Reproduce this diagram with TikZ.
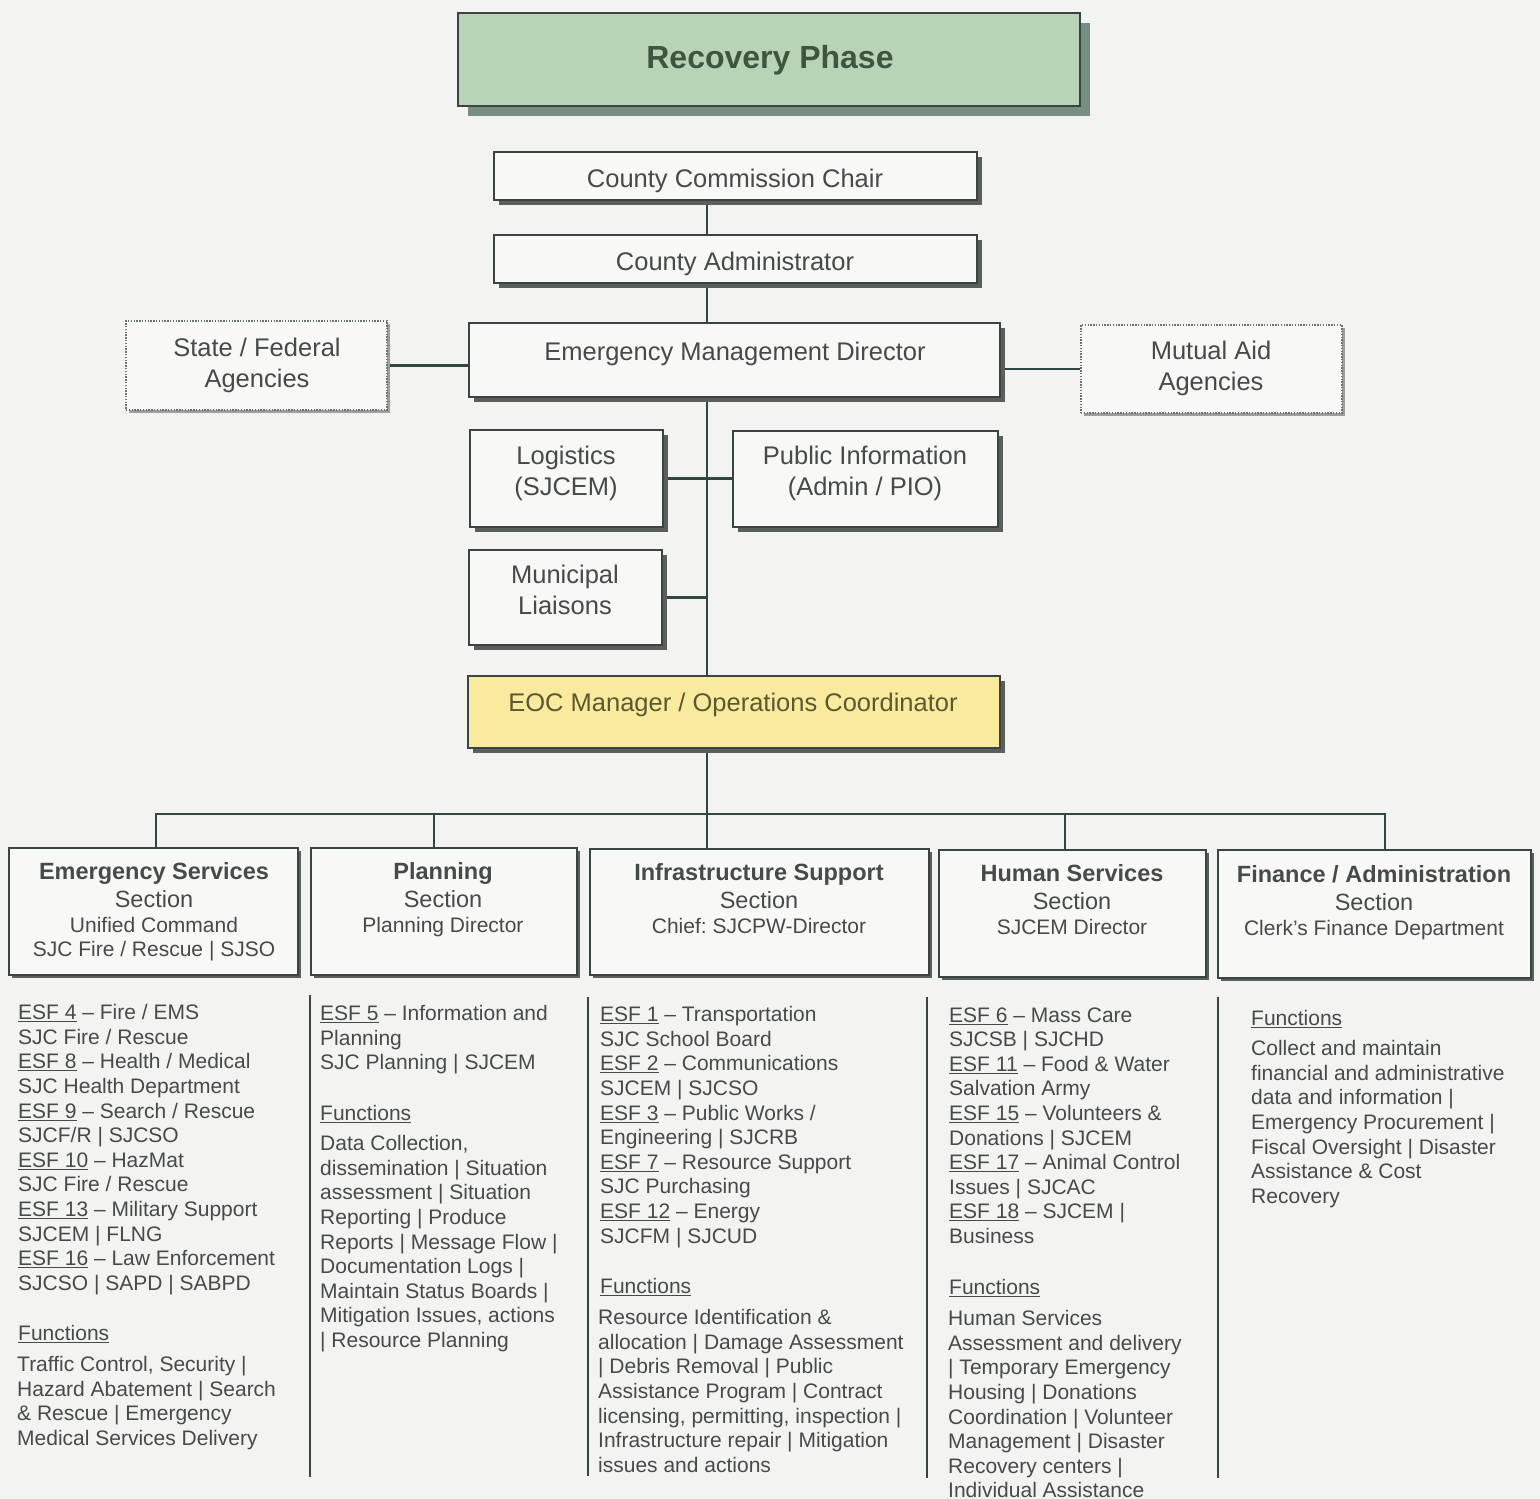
\documentclass[tikz,border=0pt]{standalone}
\usepackage{fontspec}
\setmainfont{Liberation Sans}
\usetikzlibrary{shadows,backgrounds}

\definecolor{pagebg}{HTML}{F3F4F2}
\definecolor{boxfill}{HTML}{F8F8F6}
\definecolor{edge}{HTML}{3A4442}
\definecolor{link}{HTML}{2F4744}
\definecolor{ink}{HTML}{454B49}
\definecolor{phasefill}{HTML}{B7D5B6}
\definecolor{phaseink}{HTML}{3D5640}
\definecolor{phaseshadow}{HTML}{768F82}
\definecolor{eocfill}{HTML}{F9EA9E}
\definecolor{eocink}{HTML}{5A5A32}
\definecolor{shade}{HTML}{5A5F5C}

\tikzset{
  basebox/.style={draw=edge, fill=boxfill, line width=1.6pt, inner sep=0pt},
  box/.style={basebox, drop shadow={shadow xshift=5pt, shadow yshift=-5pt, fill=shade, opacity=1}},
  secbox/.style={basebox, drop shadow={shadow xshift=3pt, shadow yshift=-3pt, fill=shade, opacity=1}},
  dotbox/.style={basebox, draw=edge!75, line width=1.4pt, dash pattern=on 1.4pt off 1.4pt,
    drop shadow={shadow xshift=3pt, shadow yshift=-3pt, fill=shade!60, opacity=1}},
  lbl/.style={text=ink, font=\fontsize{25.5}{31}\selectfont, align=center, inner sep=0pt,
    anchor=north, execute at begin node=\strut},
  lblone/.style={text=ink, font=\fontsize{25.5}{31}\selectfont, inner sep=0pt, anchor=base},
  stitle/.style={text=ink, font=\bfseries\fontsize{23.5}{28}\selectfont, inner sep=0pt, anchor=base},
  ssect/.style={text=ink, font=\fontsize{23.5}{28}\selectfont, inner sep=0pt, anchor=base},
  ssub/.style={text=ink, font=\fontsize{21}{24.6}\selectfont, inner sep=0pt, anchor=base},
  col/.style={text=ink, font=\fontsize{21}{24.6}\selectfont, align=left, inner sep=0pt,
    anchor=north west, execute at begin node=\strut},
  head/.style={text=ink, font=\fontsize{21}{24.6}\selectfont, inner sep=0pt, anchor=base west},
  conn/.style={draw=link, line width=2.4pt},
  colsep/.style={draw=edge, line width=1.8pt},
}

\begin{document}
\frenchspacing
\begin{tikzpicture}[x=1pt, y=-1pt]
\useasboundingbox (0,0) rectangle (1540,1499);
\begin{scope}[on background layer]
  \fill[pagebg] (0,0) rectangle (1540,1499);
\end{scope}

% ---- header ----
\node[basebox, draw=edge, fill=phasefill, minimum width=622pt, minimum height=93pt,
  drop shadow={shadow xshift=10pt, shadow yshift=-10pt, fill=phaseshadow, opacity=1}]
  (phase) at (769,59.5) {};
\node[text=phaseink, font=\bfseries\fontsize{32}{38}\selectfont, inner sep=0pt, anchor=base]
  (phaset) at (770,68.5) {Recovery Phase};

% ---- command chain ----
\node[box, minimum width=483pt, minimum height=48pt] (ccc) at (735.5,176) {};
\node[lblone] (ccct) at (735,187) {County Commission Chair};

\node[box, minimum width=483pt, minimum height=48pt] (ca) at (735.5,259) {};
\node[lblone] (cat) at (735,270) {County Administrator};

\node[box, minimum width=531pt, minimum height=74pt] (emd) at (734.5,360) {};
\node[lblone] (emdt) at (735,360) {Emergency Management Director};

\node[dotbox, minimum width=261pt, minimum height=89pt] (sf) at (256.5,365.5) {};
\node[lbl] (sft) at (257,337.5) {State / Federal\\Agencies};

\node[dotbox, minimum width=261pt, minimum height=88pt] (ma) at (1211.5,369) {};
\node[lbl] (mat) at (1211,340.5) {Mutual Aid\\Agencies};

\node[box, minimum width=193pt, minimum height=97pt] (log) at (566.5,478.5) {};
\node[lbl] (logt) at (566,445.5) {Logistics\\(SJCEM)};

\node[box, minimum width=265pt, minimum height=96pt] (pio) at (865.5,479) {};
\node[lbl] (piot) at (865,445.5) {Public Information\\(Admin / PIO)};

\node[box, minimum width=193pt, minimum height=95pt] (mun) at (565.5,597.5) {};
\node[lbl] (munt) at (565,564.5) {Municipal\\Liaisons};

\node[basebox, fill=eocfill, minimum width=532pt, minimum height=72pt,
  drop shadow={shadow xshift=5pt, shadow yshift=-5pt, fill=shade, opacity=1}] (eoc) at (734,712) {};
\node[text=eocink, font=\fontsize{25.5}{31}\selectfont, inner sep=0pt, anchor=base]
  (eoct) at (733,711.5) {EOC Manager / Operations Coordinator};

% ---- sections ----
\node[secbox, minimum width=289pt, minimum height=127pt] (s1) at (153.5,911.5) {};
\node[stitle] (s1a) at (154,879.5) {Emergency Services};
\node[ssect] (s1b) at (154,907.5) {Section};
\node[ssub] (s1c) at (154,932.5) {Unified Command};
\node[ssub] (s1d) at (154,956.5) {SJC Fire / Rescue | SJSO};

\node[secbox, minimum width=266pt, minimum height=127pt] (s2) at (444,911.5) {};
\node[stitle] (s2a) at (443,879.5) {Planning};
\node[ssect] (s2b) at (443,907.5) {Section};
\node[ssub] (s2c) at (443,932.5) {Planning Director};

\node[secbox, minimum width=339pt, minimum height=126pt] (s3) at (759.5,912) {};
\node[stitle] (s3a) at (759,880.5) {Infrastructure Support};
\node[ssect] (s3b) at (759,908.5) {Section};
\node[ssub] (s3c) at (759,933.5) {Chief: SJCPW-Director};

\node[secbox, minimum width=267pt, minimum height=127pt] (s4) at (1072.5,913.5) {};
\node[stitle] (s4a) at (1072,881.5) {Human Services};
\node[ssect] (s4b) at (1072,909.5) {Section};
\node[ssub] (s4c) at (1072,934.5) {SJCEM Director};

\node[secbox, minimum width=313pt, minimum height=128pt] (s5) at (1374.5,914) {};
\node[stitle] (s5a) at (1374,882.5) {Finance / Administration};
\node[ssect] (s5b) at (1374,910.5) {Section};
\node[ssub] (s5c) at (1374,935.5) {Clerk’s Finance Department};

% ---- connectors ----
\coordinate (tr) at (707,0);
\coordinate (b1) at (156,814);
\coordinate (b2) at (434,814);
\coordinate (b3) at (707,814);
\coordinate (b4) at (1065,814);
\coordinate (b5) at (1385,814);
\begin{scope}[on background layer]
  \draw[conn] (ccc.south -| tr) -- (ca.north -| tr);
  \draw[conn] (ca.south -| tr) -- (emd.north -| tr);
  \draw[conn] (emd.south -| tr) -- (eoc.north -| tr);
  \draw[conn] (eoc.south -| tr) -- (s3.north -| tr);
  \draw[conn] (sf.east) -- (sf.east -| emd.west);
  \draw[conn] (ma.west) -- (ma.west -| emd.east);
  \draw[conn] (log.east) -- (log.east -| pio.west);
  \draw[conn] (mun.east) -- (mun.east -| tr);
  \draw[conn] (b1 |- s1.north) -- (b1) -- (b5) -- (b5 |- s5.north);
  \draw[conn] (b2) -- (b2 |- s2.north);
  \draw[conn] (b4) -- (b4 |- s4.north);
\end{scope}

% ---- column rules ----
\draw[colsep] (310,995) -- (310,1477);
\draw[colsep] (588,997) -- (588,1476);
\draw[colsep] (927,997) -- (927,1478);
\draw[colsep] (1218,997) -- (1218,1478);

% ---- column 1 ----
\node[col] (c1esf) at (18,1004.3) {\underline{ESF 4} – Fire / EMS\\SJC Fire / Rescue\\\underline{ESF 8} – Health / Medical\\SJC Health Department\\\underline{ESF 9} – Search / Rescue\\SJCF/R | SJCSO\\\underline{ESF 10} – HazMat\\SJC Fire / Rescue\\\underline{ESF 13} – Military Support\\SJCEM | FLNG\\\underline{ESF 16} – Law Enforcement\\SJCSO | SAPD | SABPD};
\node[head] (c1fn) at (18,1340.5) {\underline{Functions}};
\node[col] (c1body) at (17,1356.3) {Traffic Control, Security |\\Hazard Abatement | Search\\\& Rescue | Emergency\\Medical Services Delivery};

% ---- column 2 ----
\node[col] (c2esf) at (320,1005.3) {\underline{ESF 5} – Information and\\Planning\\SJC Planning | SJCEM};
\node[head] (c2fn) at (320,1120.5) {\underline{Functions}};
\node[col] (c2body) at (320,1135.3) {Data Collection,\\dissemination | Situation\\assessment | Situation\\Reporting | Produce\\Reports | Message Flow |\\Documentation Logs |\\Maintain Status Boards |\\Mitigation Issues, actions\\| Resource Planning};

% ---- column 3 ----
\node[col] (c3esf) at (600,1006.3) {\underline{ESF 1} – Transportation\\SJC School Board\\\underline{ESF 2} – Communications\\SJCEM | SJCSO\\\underline{ESF 3} – Public Works /\\Engineering | SJCRB\\\underline{ESF 7} – Resource Support\\SJC Purchasing\\\underline{ESF 12} – Energy\\SJCFM | SJCUD};
\node[head] (c3fn) at (600,1293.5) {\underline{Functions}};
\node[col] (c3body) at (598,1309.3) {Resource Identification \&\\allocation | Damage Assessment\\| Debris Removal | Public\\Assistance Program | Contract\\licensing, permitting, inspection |\\Infrastructure repair | Mitigation\\issues and actions};

% ---- column 4 ----
\node[col] (c4esf) at (949,1007.3) {\underline{ESF 6} – Mass Care\\SJCSB | SJCHD\\\underline{ESF 11} – Food \& Water\\Salvation Army\\\underline{ESF 15} – Volunteers \&\\Donations | SJCEM\\\underline{ESF 17} – Animal Control\\Issues | SJCAC\\\underline{ESF 18} – SJCEM |\\Business};
\node[head] (c4fn) at (949,1294.5) {\underline{Functions}};
\node[col] (c4body) at (948,1310.3) {Human Services\\Assessment and delivery\\| Temporary Emergency\\Housing | Donations\\Coordination | Volunteer\\Management | Disaster\\Recovery centers |\\Individual Assistance};

% ---- column 5 ----
\node[head] (c5fn) at (1251,1025.5) {\underline{Functions}};
\node[col] (c5body) at (1251,1040.3) {Collect and maintain\\financial and administrative\\data and information |\\Emergency Procurement |\\Fiscal Oversight | Disaster\\Assistance \& Cost\\Recovery};
\end{tikzpicture}
\end{document}
